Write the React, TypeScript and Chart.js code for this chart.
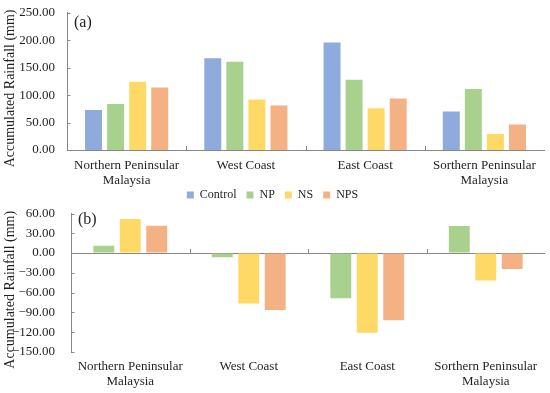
import React, { useEffect, useRef } from "react";
import { Chart, registerables } from "chart.js";

Chart.register(...registerables);

const FONT = "'Liberation Serif', serif";
const TEXT = "#1f1f1f";
const AXIS = "#878787";

const categories: (string | string[])[] = [
  ["Northern Peninsular", "Malaysia"],
  "West Coast",
  "East Coast",
  ["Sorthern Peninsular", "Malaysia"],
];

const seriesNames = ["Control", "NP", "NS", "NPS"];
const seriesColors = ["#8FAADC", "#A9D18E", "#FFD966", "#F4B183"];

// Panel (a): accumulated rainfall
const controlA = [73, 167, 196, 70];
const npA = [84, 161, 128, 111];
const nsA = [124.5, 92, 76, 29];
const npsA = [114, 81, 94, 46.5];

// Panel (b): difference from Control
const npB = [11, -6.5, -68.5, 41];
const nsB = [51.5, -76.5, -121, -41.5];
const npsB = [41.5, -86.5, -102, -24];

const yTicksA = { min: 0, max: 250, step: 50 };
const yTicksB = { min: -150, max: 60, step: 30 };

Chart.defaults.font.family = FONT;

function overlayPlugin(label: string, labelDy: number) {
  return {
    id: "overlay",
    afterDraw(chart: any) {
      const { ctx, chartArea, scales } = chart;
      ctx.save();
      const xs = scales.x;
      const ys = scales.y;
      const n = chart.data.labels.length;
      const yAxis = ys.getPixelForValue(0);
      ctx.strokeStyle = AXIS;
      ctx.lineWidth = 1;
      // category boundary ticks on the value-zero axis, pointing up
      for (let i = 1; i < n; i++) {
        const x = Math.round(xs.left + ((xs.right - xs.left) * i) / n) + 0.5;
        ctx.beginPath();
        ctx.moveTo(x, yAxis);
        ctx.lineTo(x, yAxis - 4);
        ctx.stroke();
      }
      // inward ticks on the value axis
      const ax = Math.round(chartArea.left) + 0.5;
      ys.ticks.forEach((t: any) => {
        const y = Math.round(ys.getPixelForValue(t.value)) + 0.5;
        ctx.beginPath();
        ctx.moveTo(ax, y);
        ctx.lineTo(ax + 3, y);
        ctx.stroke();
      });
      ctx.fillStyle = TEXT;
      ctx.font = `16px ${FONT}`;
      ctx.textBaseline = "middle";
      ctx.textAlign = "left";
      ctx.fillText(label, chartArea.left + 7, chartArea.top + labelDy);
      ctx.translate(10, (chartArea.top + chartArea.bottom) / 2 + 7);
      ctx.rotate(-Math.PI / 2);
      ctx.textAlign = "center";
      ctx.font = `14px ${FONT}`;
      ctx.fillText("Accumulated Rainfall (mm)", 0, 0);
      ctx.restore();
    },
  };
}

function useFontRefresh(getChart: () => Chart | null) {
  useEffect(() => {
    let alive = true;
    const fonts: any = (document as any).fonts;
    if (fonts && fonts.load) {
      fonts
        .load(`13px "Liberation Serif"`)
        .then(() => {
          const c = getChart();
          if (alive && c) c.update();
        })
        .catch(() => {});
    }
    return () => {
      alive = false;
    };
  }, []);
}

function ChartA() {
  const ref = useRef<HTMLCanvasElement>(null);
  const chartRef = useRef<Chart | null>(null);
  useEffect(() => {
    const values = [controlA, npA, nsA, npsA];
    const chart = new Chart(ref.current!, {
      type: "bar",
      data: {
        labels: categories,
        datasets: values.map((d, i) => ({
          label: seriesNames[i],
          data: d,
          backgroundColor: seriesColors[i],
          borderWidth: 0,
          categoryPercentage: 0.74,
          barPercentage: 0.77,
        })),
      },
      options: {
        responsive: false,
        animation: false,
        devicePixelRatio: 1,
        layout: { padding: { top: 3, right: 6, left: 0, bottom: 0 } },
        plugins: {
          tooltip: { enabled: false },
          legend: { display: false },
        },
        scales: {
          x: {
            afterFit: (s: any) => {
              s.height = 42;
            },
            grid: { display: false, drawTicks: false },
            border: { display: true, color: AXIS, width: 1 },
            ticks: {
              padding: 8,
              color: TEXT,
              font: { family: FONT, size: 13, lineHeight: 1.15 },
              maxRotation: 0,
              autoSkip: false,
            },
          },
          y: {
            min: yTicksA.min,
            max: yTicksA.max,
            afterFit: (s: any) => {
              s.width = 67;
            },
            grid: { display: false, drawTicks: false },
            border: { display: true, color: AXIS, width: 1 },
            ticks: {
              stepSize: yTicksA.step,
              autoSkip: false,
              padding: 12,
              color: TEXT,
              font: { family: FONT, size: 13 },
              callback: (v: any) => Number(v).toFixed(2),
            },
          },
        },
      },
      plugins: [overlayPlugin("(a)", 10)],
    } as any);
    chartRef.current = chart;
    return () => {
      chart.destroy();
      chartRef.current = null;
    };
  }, []);
  useFontRefresh(() => chartRef.current);
  return (
    <canvas
      ref={ref}
      width={550}
      height={199}
      style={{ position: "absolute", left: 0, top: -7, display: "block" }}
    />
  );
}

function ChartB() {
  const ref = useRef<HTMLCanvasElement>(null);
  const chartRef = useRef<Chart | null>(null);
  useEffect(() => {
    const values = [npB, nsB, npsB];
    const chart = new Chart(ref.current!, {
      type: "bar",
      data: {
        labels: categories,
        datasets: values.map((d, i) => ({
          label: seriesNames[i + 1],
          data: d,
          backgroundColor: seriesColors[i + 1],
          borderWidth: 0,
          categoryPercentage: 0.67,
          barPercentage: 0.79,
          xAxisID: "x",
        })),
      },
      options: {
        responsive: false,
        animation: false,
        devicePixelRatio: 1,
        layout: { padding: { top: 2, right: 5, left: 0, bottom: 0 } },
        plugins: {
          tooltip: { enabled: false },
          legend: {
            display: true,
            position: "top",
            labels: {
              boxWidth: 7,
              boxHeight: 7,
              padding: 10,
              color: TEXT,
              font: { family: FONT, size: 12 },
              generateLabels: () =>
                seriesNames.map((name, i) => ({
                  text: name,
                  fillStyle: seriesColors[i],
                  strokeStyle: seriesColors[i],
                  lineWidth: 0,
                  hidden: false,
                  fontColor: TEXT,
                  datasetIndex: i,
                })),
            },
            onClick: () => {},
          },
        },
        scales: {
          x: {
            afterFit: (s: any) => {
              s.height = 41;
            },
            grid: { display: false, drawTicks: false },
            border: { display: false },
            ticks: {
              padding: 7,
              color: TEXT,
              font: { family: FONT, size: 13, lineHeight: 1.15 },
              maxRotation: 0,
              autoSkip: false,
            },
          },
          xTop: {
            type: "category",
            position: "top",
            display: true,
            afterFit: (s: any) => {
              s.height = 2.5;
            },
            grid: { display: false, drawTicks: false },
            border: { display: false },
            ticks: { display: false },
          },
          y: {
            min: yTicksB.min,
            max: yTicksB.max,
            afterFit: (s: any) => {
              s.width = 71;
            },
            grid: {
              display: true,
              drawTicks: false,
              color: (c: any) => (c.tick && c.tick.value === 0 ? AXIS : "rgba(0,0,0,0)"),
            },
            border: { display: true, color: AXIS, width: 1 },
            ticks: {
              stepSize: yTicksB.step,
              autoSkip: false,
              padding: 16,
              color: TEXT,
              font: { family: FONT, size: 13 },
              callback: (v: any) => {
                const s = Math.abs(Number(v)).toFixed(2);
                return Number(v) < 0 ? "\u2212" + s : s;
              },
            },
          },
        },
      },
      plugins: [overlayPlugin("(b)", 6)],
    } as any);
    chartRef.current = chart;
    return () => {
      chart.destroy();
      chartRef.current = null;
    };
  }, []);
  useFontRefresh(() => chartRef.current);
  return (
    <canvas
      ref={ref}
      width={550}
      height={216}
      style={{ position: "absolute", left: 0, top: 177, display: "block" }}
    />
  );
}

export default function App() {
  useEffect(() => {
    document.body.style.margin = "0";
    document.body.style.background = "#ffffff";
  }, []);
  return (
    <div
      style={{
        position: "relative",
        width: 550,
        height: 393,
        background: "#fff",
        overflow: "hidden",
        fontFamily: FONT,
      }}
    >
      <ChartA />
      <ChartB />
    </div>
  );
}
